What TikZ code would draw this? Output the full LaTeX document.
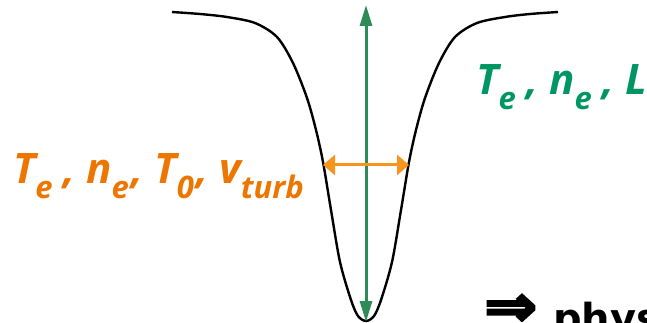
\documentclass[tikz,border=0pt]{standalone}
\usepackage{fontspec}
\setmainfont{Open Sans}
\newfontfamily\symfont{DejaVu Sans}[BoldFeatures={FakeBold=4}]
\newfontfamily\physfont{DejaVu Sans}
\usetikzlibrary{arrows.meta}
\definecolor{garrow}{RGB}{46,139,87}
\definecolor{gtext}{RGB}{0,150,100}
\definecolor{oarrow}{RGB}{247,148,29}
\definecolor{otext}{RGB}{237,118,0}
\newcommand\sbs[1]{\raisebox{-15pt}{\fontsize{31}{31}\selectfont #1}}
\tikzset{
  profile/.style={line width=2.4pt, black, line join=round},
  widtharrow/.style={line width=3pt, oarrow, {Triangle[length=12pt,width=20pt]}-{Triangle[length=12pt,width=20pt]}},
  deptharrow/.style={line width=3pt, garrow, {Triangle[length=21pt,width=12pt]}-{Triangle[length=21pt,width=12pt]}},
  lbl/.style={anchor=base west, inner sep=0pt, font=\fontsize{42}{42}\selectfont\bfseries\itshape},
}
\begin{document}
\begin{tikzpicture}[x=1pt,y=-1pt]
\useasboundingbox (0,0) rectangle (647,323);
\draw[profile] plot[smooth, tension=0.5] coordinates {
 (172,12) (200,14) (227,17) (255,23) (277,37) (293,63) (307,98) (316,130) (323,162) (331,210) (340,262) (351,300) (358,316) (366,321)
 (374,316) (381,300) (392,262) (401,210) (409,162) (416,130) (425,98) (439,63) (455,37) (477,23) (505,17) (530,14) (558,12)};
\coordinate (top) at (366,5);
\coordinate (bot) at (366,322);
\coordinate (hl) at (323,165);
\coordinate (hr) at (409,165);
\draw[deptharrow] (bot) -- (top);
\draw[widtharrow] (hl) -- (hr);
\node[lbl, text=otext] (olab) at (13,183) {T\sbs{e} , n\sbs{e}\kern3pt, T\sbs{0}\kern3pt, v\sbs{turb}};
\node[lbl, text=gtext] (glab) at (476,95) {T\sbs{e} , n\sbs{e} , L};
\node[anchor=south west, inner sep=0pt] (impl) at (484,326) {\resizebox{53pt}{31pt}{\symfont\bfseries ⇒}};
\node[anchor=base west, inner sep=0pt, font=\fontsize{40}{40}\selectfont\physfont\bfseries] (phys) at (553,332) {phys};
\end{tikzpicture}
\end{document}
